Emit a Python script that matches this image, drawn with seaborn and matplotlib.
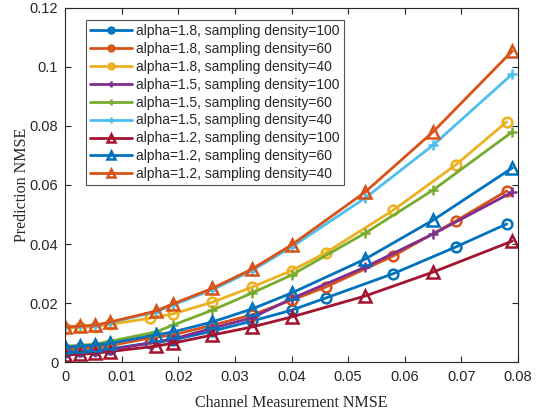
import numpy as np
import pandas as pd
import seaborn as sns
import matplotlib.pyplot as plt

# channel measurement NMSE (x) for each marker family
x_circ = [0, 0.0027, 0.0053, 0.008, 0.015, 0.019, 0.026, 0.033, 0.040, 0.046, 0.058, 0.069, 0.078]
x_tri = [0, 0.0027, 0.0053, 0.008, 0.016, 0.019, 0.026, 0.033, 0.040, 0.053, 0.065, 0.079]
x_plus = x_tri

# prediction NMSE
a18_d100 = [0.0035, 0.0037, 0.004, 0.0045, 0.0065, 0.0075, 0.0105, 0.0139, 0.0176, 0.0217, 0.030, 0.039, 0.0468]
a18_d60 = [0.0045, 0.0047, 0.005, 0.0056, 0.0082, 0.0092, 0.0125, 0.016, 0.021, 0.0254, 0.036, 0.0478, 0.058]
a18_d40 = [0.0115, 0.0118, 0.012, 0.0128, 0.0149, 0.0163, 0.0203, 0.0254, 0.031, 0.037, 0.0515, 0.0668, 0.0814]
a15_d100 = [0.003, 0.0033, 0.0036, 0.0042, 0.0068, 0.0078, 0.0115, 0.015, 0.0215, 0.0322, 0.0434, 0.0576]
a15_d60 = [0.0054, 0.0057, 0.0061, 0.0071, 0.0102, 0.0125, 0.0176, 0.0234, 0.0295, 0.0437, 0.0583, 0.078]
a15_d40 = [0.0118, 0.0121, 0.0124, 0.0134, 0.017, 0.0193, 0.0245, 0.031, 0.039, 0.0556, 0.0735, 0.0976]
a12_d100 = [0.0024, 0.0027, 0.003, 0.0036, 0.0054, 0.0064, 0.0092, 0.0119, 0.0153, 0.0224, 0.0305, 0.041]
a12_d60 = [0.0051, 0.0054, 0.0058, 0.0064, 0.0092, 0.0102, 0.0136, 0.018, 0.0234, 0.0349, 0.0481, 0.0658]
a12_d40 = [0.0119, 0.0122, 0.0125, 0.0136, 0.0173, 0.0197, 0.025, 0.0315, 0.0397, 0.0576, 0.078, 0.1054]

labels = ['alpha=1.8, sampling density=100', 'alpha=1.8, sampling density=60',
          'alpha=1.8, sampling density=40', 'alpha=1.5, sampling density=100',
          'alpha=1.5, sampling density=60', 'alpha=1.5, sampling density=40',
          'alpha=1.2, sampling density=100', 'alpha=1.2, sampling density=60',
          'alpha=1.2, sampling density=40']
series = [(x_circ, a18_d100), (x_circ, a18_d60), (x_circ, a18_d40),
          (x_plus, a15_d100), (x_plus, a15_d60), (x_plus, a15_d40),
          (x_tri, a12_d100), (x_tri, a12_d60), (x_tri, a12_d40)]
markers = ['o', 'o', 'o', '+', '+', '+', '^', '^', '^']
colors = ['#0072BD', '#D95319', '#EDB120', '#7E2F8E', '#77AC30', '#4DBEEE',
          '#A2142F', '#0072BD', '#D95319']
msize = {'o': 7, '+': 7, '^': 9}

sns.set_style('white')
plt.rcParams['font.family'] = ['Liberation Sans', 'DejaVu Sans']

fig = plt.figure(figsize=(5.47, 4.12), dpi=100)
ax = fig.add_axes([0.119, 0.121, 0.828, 0.860])

for (xs, ys), lab, m, c in zip(series, labels, markers, colors):
    df = pd.DataFrame({'x': xs, 'y': ys})
    sns.lineplot(data=df, x='x', y='y', ax=ax, color=c, marker=m, label=lab,
                 linewidth=2, markersize=msize[m], markerfacecolor='none',
                 markeredgecolor=c, markeredgewidth=1.8, estimator=None, sort=False)

ax.set_xlim(0, 0.08)
ax.set_ylim(0, 0.12)
ax.set_xticks([0, 0.01, 0.02, 0.03, 0.04, 0.05, 0.06, 0.07, 0.08])
ax.set_xticklabels(['0', '0.01', '0.02', '0.03', '0.04', '0.05', '0.06', '0.07', '0.08'])
ax.set_yticks([0, 0.02, 0.04, 0.06, 0.08, 0.1, 0.12])
ax.set_yticklabels(['0', '0.02', '0.04', '0.06', '0.08', '0.1', '0.12'])
ax.tick_params(direction='in', length=4, width=0.8, colors='#262626', labelsize=10.5,
               top=True, right=True, bottom=True, left=True)
ax.tick_params(axis='x', pad=6)
ax.tick_params(axis='y', pad=5)
for s in ax.spines.values():
    s.set_color('#262626')
    s.set_linewidth(0.8)

ax.set_xlabel('Channel Measurement NMSE', family='Liberation Serif', fontsize=11.5)
ax.set_ylabel('Prediction NMSE', family='Liberation Serif', fontsize=11.5)
ax.xaxis.set_label_coords(0.5, -0.094)
ax.yaxis.set_label_coords(-0.077, 0.5)

leg = ax.legend(loc='upper left', bbox_to_anchor=(0.046, 0.966), borderaxespad=0,
                fontsize=10, frameon=True, fancybox=False, edgecolor='#262626',
                handlelength=3, markerscale=0.6, borderpad=0.3, labelspacing=0.28,
                handletextpad=0.3)
leg.get_frame().set_linewidth(0.8)

fig.savefig('out.png', dpi=100)
